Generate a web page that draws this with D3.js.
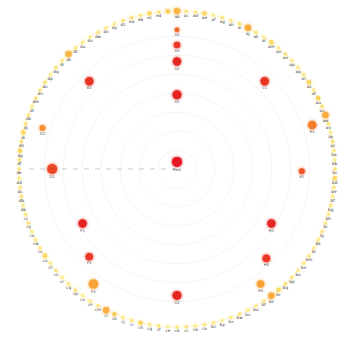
<!DOCTYPE html>
<html>
<head>
<meta charset="utf-8">
<script src="https://cdn.jsdelivr.net/npm/d3@7/dist/d3.min.js"></script>
<style>
  html, body { margin: 0; padding: 0; background: #ffffff; }
  svg { display: block; }
  text { font-family: "DejaVu Sans", Arial, sans-serif; }
</style>
</head>
<body>
<svg id="chart" width="350" height="349"></svg>
<script>
// Inner nodes: angle (degrees, clockwise from top), depth (0-100), size, heat (0-1)
const innerLabels = ["Root", "A1", "A2", "A3", "A4", "B1", "C1", "D2", "D1", "E1", "E2", "F1", "F2", "F3", "G1", "H1", "H2", "H3"];
const innerAngle  = [0, 0, 0, 0, 0, 315, 45, 287, 270, 91, 72, 240, 225, 216, 180, 120, 135, 144];
const innerDepth  = [4.5, 47, 68, 78.5, 88, 78.5, 78.5, 89, 79, 79, 90, 69, 78.5, 90, 80, 69, 80, 90];
const innerSize   = [5, 4.5, 4.2, 3.3, 2.4, 4.2, 4.2, 3, 5, 3, 4.3, 4.2, 3.8, 4.8, 4.5, 4.2, 3.8, 3.8];
const innerHeat   = [1.0, 0.97, 0.95, 0.9, 0.75, 0.92, 0.92, 0.62, 0.85, 0.8, 0.68, 0.97, 0.9, 0.55, 0.95, 0.95, 0.9, 0.55];

// Leaf nodes around the outer ring
const outerLabels = ("ab ac ad ae af ag ah ai aj ak al am an ao ap aq ar as at au av aw ax ay az " +
  "ba bb bc bd be bf bg bh bi bj bk bl bm bn bo bp bq br bs bt bu bv bw bx by bz " +
  "ca cb cc cd ce cf cg ch ci cj ck cl cm cn co cp cq cr cs ct cu cv cw cx cy cz " +
  "da db dc dd de df dg dh di dj dk dl dm dn do dp dq dr ds dt du dv dw dx dy dz " +
  "ea eb ec ed").split(" ");
const outerHeat = [
  0.45, 0.2, 0.15, 0.3, 0.1, 0.2, 0.15, 0.25, 0.5, 0.2, 0.15, 0.3, 0.1, 0.2, 0.15, 0.1, 0.2, 0.3,
  0.15, 0.35, 0.25, 0.5, 0.2, 0.1, 0.25, 0.15, 0.1, 0.2, 0.3, 0.15, 0.1, 0.2, 0.15, 0.1, 0.2, 0.15,
  0.1, 0.2, 0.15, 0.1, 0.2, 0.25, 0.3, 0.5, 0.2, 0.15, 0.1, 0.2, 0.15, 0.1, 0.2, 0.15, 0.1, 0.2,
  0.15, 0.1, 0.2, 0.15, 0.3, 0.2, 0.15, 0.35, 0.5, 0.2, 0.15, 0.1, 0.2, 0.15, 0.1, 0.2, 0.15, 0.3,
  0.2, 0.15, 0.1, 0.2, 0.15, 0.1, 0.2, 0.15, 0.1, 0.2, 0.25, 0.3, 0.25, 0.3, 0.2, 0.15, 0.1, 0.2,
  0.15, 0.2, 0.1, 0.2, 0.15, 0.45, 0.2, 0.15, 0.1, 0.2, 0.15, 0.1, 0.2, 0.25, 0.15, 0.3, 0.2, 0.35
];
const outerSize = outerHeat.map(h => h >= 0.45 ? 3.2 : h >= 0.3 ? 2.2 : 1.6);

// Concentric guide rings (depth units)
const ringDepths = [12, 24, 36, 48, 60, 72, 84];

const width = 350, height = 349;
const cx = 177, cy = 169, outerR = 158;

const svg = d3.select("#chart");
const defs = svg.append("defs");
const glow = defs.append("filter").attr("id", "glow")
  .attr("x", "-100%").attr("y", "-100%").attr("width", "300%").attr("height", "300%");
glow.append("feGaussianBlur").attr("in", "SourceGraphic").attr("stdDeviation", 1.8).attr("result", "b");
const merge = glow.append("feMerge");
merge.append("feMergeNode").attr("in", "b");
merge.append("feMergeNode").attr("in", "SourceGraphic");

const rScale = d3.scaleLinear().domain([0, 100]).range([0, outerR]);
const aScale = d3.scaleLinear().domain([0, 360]).range([0, 2 * Math.PI]);
const heatColor = d3.scaleLinear()
  .domain([0, 0.3, 0.6, 1])
  .range(["#fff59a", "#fcd860", "#f7962e", "#e41822"])
  .interpolate(d3.interpolateRgb);

const outerAngle = d3.scalePoint()
  .domain(d3.range(outerHeat.length))
  .range([0, 360 - 360 / outerHeat.length]);

const g = svg.append("g").attr("transform", `translate(${cx},${cy})`);

function px(angleDeg, depth) {
  const a = aScale(angleDeg), r = rScale(depth);
  return [r * Math.sin(a), -r * Math.cos(a)];
}

// guide rings
g.selectAll("circle.ring").data(ringDepths).join("circle")
  .attr("class", "ring")
  .attr("r", d => rScale(d))
  .attr("fill", "none")
  .attr("stroke", "#f1f3f6")
  .attr("stroke-width", 0.8);

// outer ring track
g.append("circle").attr("r", rScale(100))
  .attr("fill", "none").attr("stroke", "#fcf6d4").attr("stroke-width", 2).attr("opacity", 0.6);

// dashed link from the root to the leftmost branch
const linkEnd = px(270, 95);
g.append("line")
  .attr("x1", 0).attr("y1", 0)
  .attr("x2", linkEnd[0]).attr("y2", linkEnd[1])
  .attr("stroke", "#c4cbd8").attr("stroke-width", 1.2)
  .attr("stroke-dasharray", "5,6");

// outer leaf nodes
const outer = outerHeat.map((h, i) => ({
  label: outerLabels[i], heat: h, size: outerSize[i], angle: outerAngle(i), depth: 100
}));
const og = g.selectAll("g.leaf").data(outer).join("g")
  .attr("class", "leaf")
  .attr("transform", d => { const p = px(d.angle, d.depth); return `translate(${p[0]},${p[1]})`; });
og.append("circle")
  .attr("r", d => d.size)
  .attr("fill", d => heatColor(d.heat))
  .attr("filter", "url(#glow)");
og.append("text")
  .attr("y", d => d.size + 3.8)
  .attr("text-anchor", "middle")
  .attr("font-size", 4.2)
  .attr("fill", "#444")
  .text(d => d.label);

// inner branch nodes
const inner = innerAngle.map((a, i) => ({
  label: innerLabels[i], angle: a, depth: innerDepth[i], size: innerSize[i], heat: innerHeat[i]
}));
const ig = g.selectAll("g.branch").data(inner).join("g")
  .attr("class", "branch")
  .attr("transform", d => { const p = px(d.angle, d.depth); return `translate(${p[0]},${p[1]})`; });
ig.append("circle")
  .attr("r", d => d.size)
  .attr("fill", d => heatColor(d.heat))
  .attr("filter", "url(#glow)");
ig.append("text")
  .attr("y", d => d.size + 4)
  .attr("text-anchor", "middle")
  .attr("font-size", 3.8)
  .attr("fill", "#555")
  .text(d => d.label);
</script>
</body>
</html>
